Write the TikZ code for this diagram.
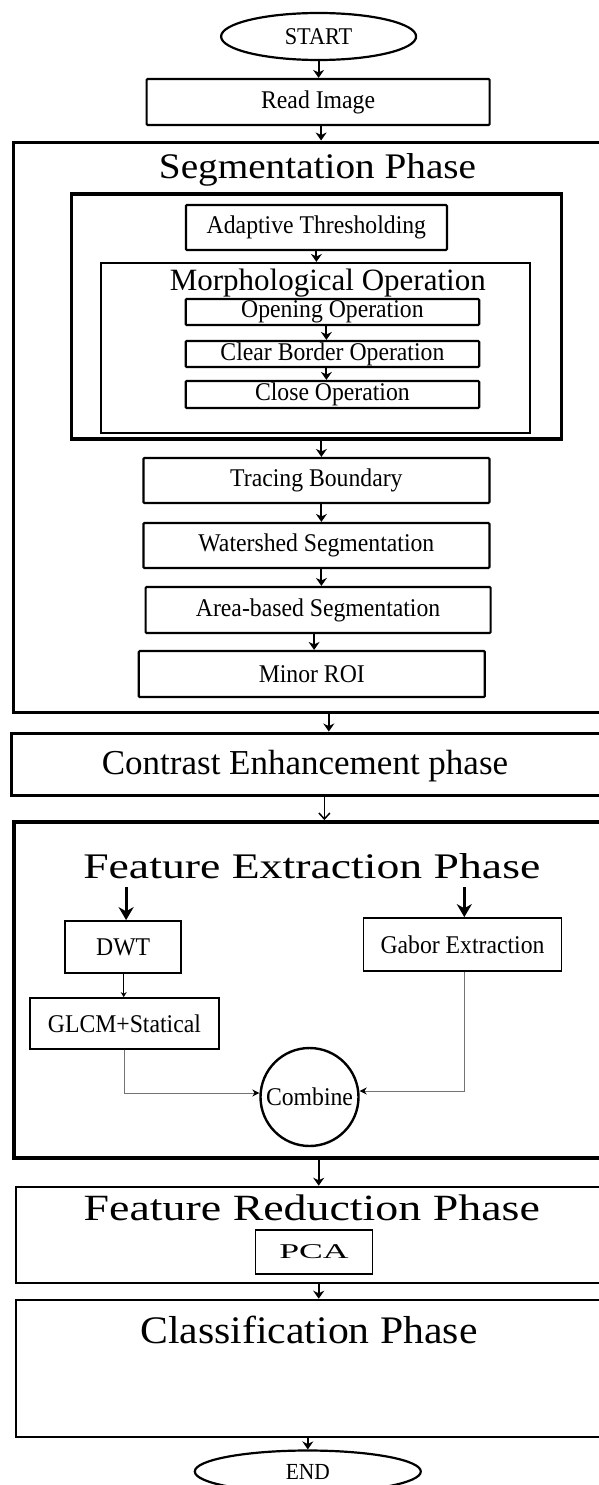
\documentclass[tikz,border=0pt]{standalone}
\usepackage{fontspec}
\setmainfont{Liberation Serif}
\newfontfamily\condfont[FakeStretch=0.93]{Liberation Serif}
\newfontfamily\segfont[FakeStretch=1.09]{Liberation Serif}
\newfontfamily\widefont[FakeStretch=1.27]{Liberation Serif}
\newfontfamily\redfont[FakeStretch=1.24]{Liberation Serif}
\newfontfamily\clsfont[FakeStretch=1.07]{Liberation Serif}
\newfontfamily\pcafont[FakeStretch=1.7]{Liberation Serif}
\usetikzlibrary{arrows.meta,shapes.geometric,fit}
\tikzset{
  stepbox/.style={draw, line width=2.2pt, inner sep=0pt, rounded corners=1pt,
    font=\condfont\fontsize{25.5}{25.5}\selectfont},
  cont/.style={draw, line width=3pt, inner sep=0pt},
  title/.style={anchor=base, inner sep=0pt},
  arr/.style={-{Stealth[length=8pt,width=11pt]}, line width=2pt},
  bigarr/.style={-{Stealth[length=13pt,width=15pt]}, line width=3.2pt},
  thinarr/.style={-{Stealth[length=7pt,width=7pt,black]}, line width=0.9pt, black!55},
}
\begin{document}
\begin{tikzpicture}[x=1pt,y=-1pt]
\useasboundingbox (0,0) rectangle (599,1485);
\clip (0,0) rectangle (599,1485);

% top
\node[ellipse, draw, line width=2.2pt, minimum width=195pt, minimum height=47pt, inner sep=0pt,
  font=\condfont\fontsize{24}{24}\selectfont] (start) at (318.6,36.5) {START};
\node[stepbox, minimum width=343pt, minimum height=46pt] (read) at (318.1,102) {Read Image};

% segmentation phase
\node[cont, fit={(13.8,142) (650,712)}] (seg) {};
\node[title, font=\segfont\fontsize{36}{36}\selectfont] (segt) at (317.5,178) {Segmentation Phase};
\node[cont, line width=3.2pt, fit={(71.1,194) (561.7,439)}] (mcont) {};
\node[stepbox, minimum width=261pt, minimum height=45pt] (adapt) at (316.4,227.5) {Adaptive Thresholding};
\node[cont, line width=2.2pt, fit={(100.9,263) (529.6,433)}] (morph) {};
\node[title, font=\fontsize{31}{31}\selectfont] (morpht) at (327.8,290) {Morphological Operation};
\node[stepbox, minimum width=293.5pt, minimum height=26pt] (open) at (332.4,312) {Opening Operation};
\node[stepbox, minimum width=293.5pt, minimum height=26pt] (clear) at (332.4,354) {Clear Border Operation};
\node[stepbox, minimum width=293.5pt, minimum height=27pt] (close) at (332.4,394.5) {Close Operation};
\node[stepbox, minimum width=346pt, minimum height=45pt] (trace) at (316.4,480.5) {Tracing Boundary};
\node[stepbox, minimum width=346pt, minimum height=45pt] (water) at (316.4,545.5) {Watershed Segmentation};
\node[stepbox, minimum width=345pt, minimum height=46pt] (area) at (318.1,610) {Area-based Segmentation};
\node[stepbox, minimum width=346pt, minimum height=46pt] (minor) at (311.8,674) {Minor ROI};

% contrast
\node[cont, fit={(11.5,733) (650,795)}] (contr) {};
\node[title, anchor=center, font=\fontsize{35}{35}\selectfont] (contrt) at (305,766) {Contrast Enhancement phase};

% feature extraction
\node[cont, line width=3.8pt, fit={(13.8,822) (650,1158)}] (feat) {};
\node[title, font=\widefont\fontsize{36}{36}\selectfont] (featt) at (311.8,878) {Feature Extraction Phase};
\coordinate (fe1) at (126.1,887);
\coordinate (fe2) at (464.3,887);
\node[stepbox, line width=1.8pt, rounded corners=0pt, minimum width=116pt, minimum height=52pt] (dwt) at (123.2,947) {DWT};
\node[stepbox, line width=1.8pt, rounded corners=0pt, minimum width=198pt, minimum height=53pt] (gabor) at (462.5,944.5) {Gabor Extraction};
\node[stepbox, line width=1.8pt, rounded corners=0pt, minimum width=189pt, minimum height=51pt] (glcm) at (124.4,1023.5) {GLCM+Statical};
\node[circle, draw, line width=2.4pt, minimum size=98pt, inner sep=0pt,
  font=\condfont\fontsize{25.5}{25.5}\selectfont] (comb) at (309.5,1097) {Combine};

% feature reduction
\node[cont, line width=2.6pt, fit={(16,1187) (650,1283)}] (red) {};
\node[title, font=\redfont\fontsize{37}{37}\selectfont] (redt) at (311.8,1220) {Feature Reduction Phase};
\node[draw, line width=1.5pt, minimum width=117pt, minimum height=44pt, inner sep=0pt,
  font=\pcafont\fontsize{21}{21}\selectfont] (pca) at (314,1252) {PCA};

% classification
\node[cont, line width=2.6pt, fit={(16,1300) (650,1437)}] (cls) {};
\node[title, font=\clsfont\fontsize{39}{39}\selectfont] (clst) at (308.9,1343) {Classification Phase};
\node[ellipse, draw, line width=2.2pt, minimum width=226pt, minimum height=42pt, inner sep=0pt,
  font=\condfont\fontsize{23}{23}\selectfont] (end) at (307.8,1471.5) {END};

% connectors
\draw[arr] (start.south) -- (start.south |- read.north);
\draw[arr] ([xshift=3pt]read.south) -- ([xshift=3pt]read.south |- seg.north);
\draw[arr] (adapt.south) -- (adapt.south |- morph.north);
\draw[arr] ([xshift=-6pt]open.south) -- ([xshift=-6pt]clear.north);
\draw[arr] ([xshift=-6pt]clear.south) -- ([xshift=-6pt]close.north);
\draw[arr] ([xshift=5pt]trace.north |- mcont.south) -- ([xshift=5pt]trace.north);
\draw[arr] ([xshift=5pt]trace.south) -- ([xshift=5pt]water.north);
\draw[arr] ([xshift=5pt]water.south) -- ([xshift=5pt]water.south |- area.north);
\draw[arr] ([xshift=-4pt]area.south) -- ([xshift=-4pt]area.south |- minor.north);
\draw[arr] ([xshift=17pt]minor.south |- seg.south) -- ([xshift=17pt]minor.south |- contr.north);
\draw[-{Straight Barb[length=6pt,width=11pt]}, line width=1.5pt] (324.4,0 |- contr.south) -- (324.4,0 |- feat.north);
\draw[bigarr] (fe1) -- (fe1 |- dwt.north);
\draw[bigarr] (fe2) -- (fe2 |- gabor.north);
\draw[-{Stealth[length=5pt,width=6pt]}, line width=1pt] ([xshift=0.5pt]dwt.south) -- ([xshift=0.5pt]dwt.south |- glcm.north);
\draw[thinarr] (glcm.south) |- ([yshift=4pt]comb.west);
\draw[thinarr] ([xshift=2pt]gabor.south) |- ([yshift=6pt]comb.east);
\draw[arr] (318.7,0 |- feat.south) -- (318.7,0 |- red.north);
\draw[arr] (318.7,0 |- red.south) -- (318.7,0 |- cls.north);
\draw[arr] (end.north |- cls.south) -- (end.north);
\end{tikzpicture}
\end{document}
